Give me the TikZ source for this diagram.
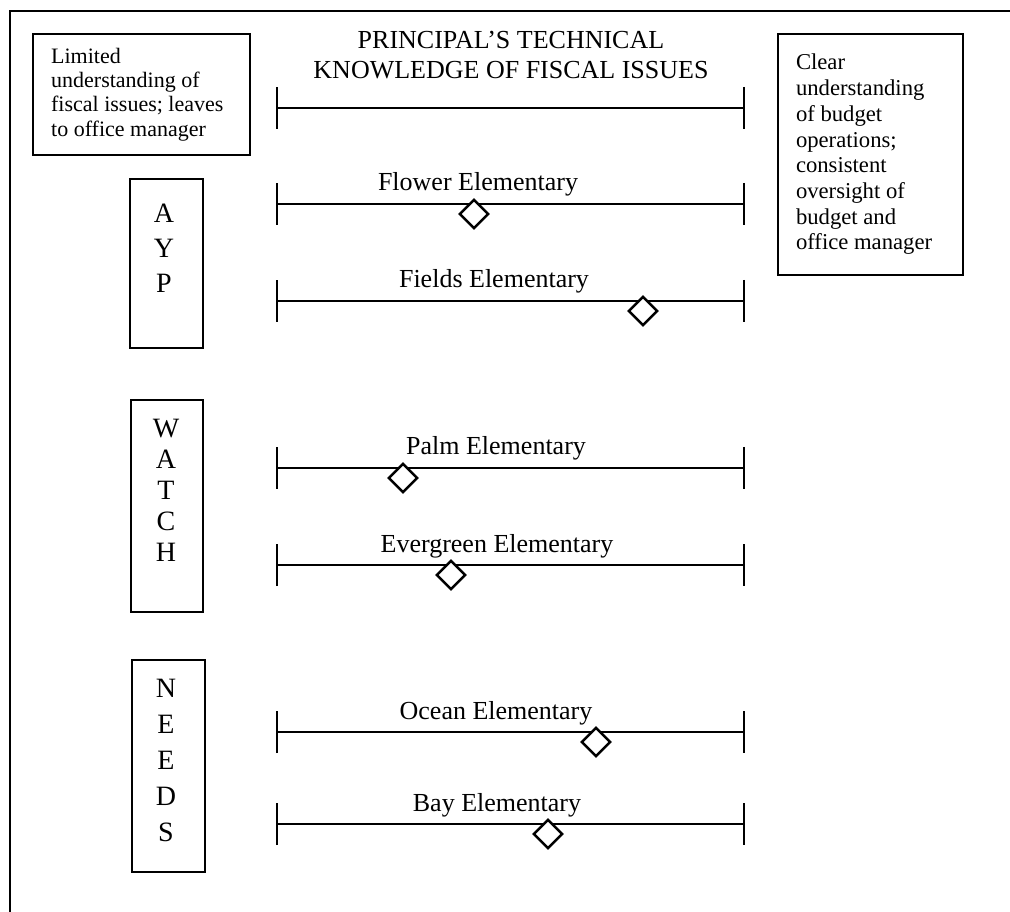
\documentclass[tikz,border=0pt]{standalone}
\usepackage{fontspec}
\setmainfont{Liberation Serif}
\usetikzlibrary{shapes.geometric,arrows.meta}
\begin{document}
\begin{tikzpicture}[x=0.75pt,y=-0.75pt,
  frameline/.style={line width=2.1pt},
  scaleline/.style={line width=1.6pt,
    {Bar[width=31.5pt,line width=1.6pt]}-{Bar[width=31.5pt,line width=1.6pt]}},
  endbox/.style={draw,rectangle,line width=1.5pt,inner xsep=13.5pt,inner ysep=0pt,
    align=flush left},
  groupbox/.style={draw,rectangle,line width=1.5pt,inner sep=0pt},
  letters/.style={anchor=north,align=center,inner sep=0pt},
  schoolname/.style={anchor=base,inner sep=0pt,font=\fontsize{19.5}{22}\selectfont},
  rating/.style={draw,diamond,aspect=1,fill=white,line width=1.8pt,inner sep=0pt,
    minimum size=22pt}
]
\useasboundingbox (0,0) rectangle (1010,912);

% outer frame (open at right and bottom)
\draw[frameline] (10,912) -- (10,11) -- (1010,11);

% title and overall scale
\node[anchor=north,align=center,inner sep=0pt,
      font=\fontsize{19.5}{22.5}\selectfont] (title) at (511,31)
  {PRINCIPAL'S TECHNICAL\\KNOWLEDGE OF FISCAL ISSUES};
\coordinate (topL) at (276,108);
\coordinate (topR) at (745,108);
\draw[scaleline] (topL) -- (topR);

% end-point descriptions
\node[endbox,text width=135.5pt,minimum width=162.75pt,minimum height=90.75pt,
      font=\fontsize{16.5}{18.2}\selectfont] (low) at (141.5,94.5)
  {Limited\\understanding of\\fiscal issues; leaves\\to office manager};
\node[endbox,text width=111.75pt,minimum width=138.75pt,minimum height=180.75pt,
      font=\fontsize{17}{19.3}\selectfont] (high) at (870.5,154.5)
  {Clear\\understanding\\of budget\\operations;\\consistent\\oversight of\\budget and\\office manager};

% status groups
\node[groupbox,minimum width=54.75pt,minimum height=126.75pt] (ayp) at (166.5,263.5) {};
\node[letters,font=\fontsize{21}{26.25}\selectfont] (ayptext) at (164,204)
  {A\\Y\\P};
\node[groupbox,minimum width=54pt,minimum height=159pt] (watch) at (167,506) {};
\node[letters,font=\fontsize{21}{23.25}\selectfont] (watchtext) at (166,419)
  {W\\A\\T\\C\\H};
\node[groupbox,minimum width=54.75pt,minimum height=159pt] (needs) at (168.5,766) {};
\node[letters,font=\fontsize{21}{27}\selectfont] (needstext) at (166,679)
  {N\\E\\E\\D\\S};

% one scale per school: name, line y, rating position, label centre
\foreach \id/\y/\pos/\lx/\school in {
    flower/204/474/478/Flower Elementary,
    fields/301/643/494/Fields Elementary,
    palm/468/403/496/Palm Elementary,
    evergreen/565/451/497/Evergreen Elementary,
    ocean/732/596/496/Ocean Elementary,
    bay/824/548/497/Bay Elementary} {
  \coordinate (\id L) at (276,\y);
  \coordinate (\id R) at (745,\y);
  \draw[scaleline] (\id L) -- (\id R);
  \node[schoolname] (\id name) at (\lx,\y-13) {\school};
  \node[rating] (\id mark) at (\pos,\y+10) {};
}
\end{tikzpicture}
\end{document}
